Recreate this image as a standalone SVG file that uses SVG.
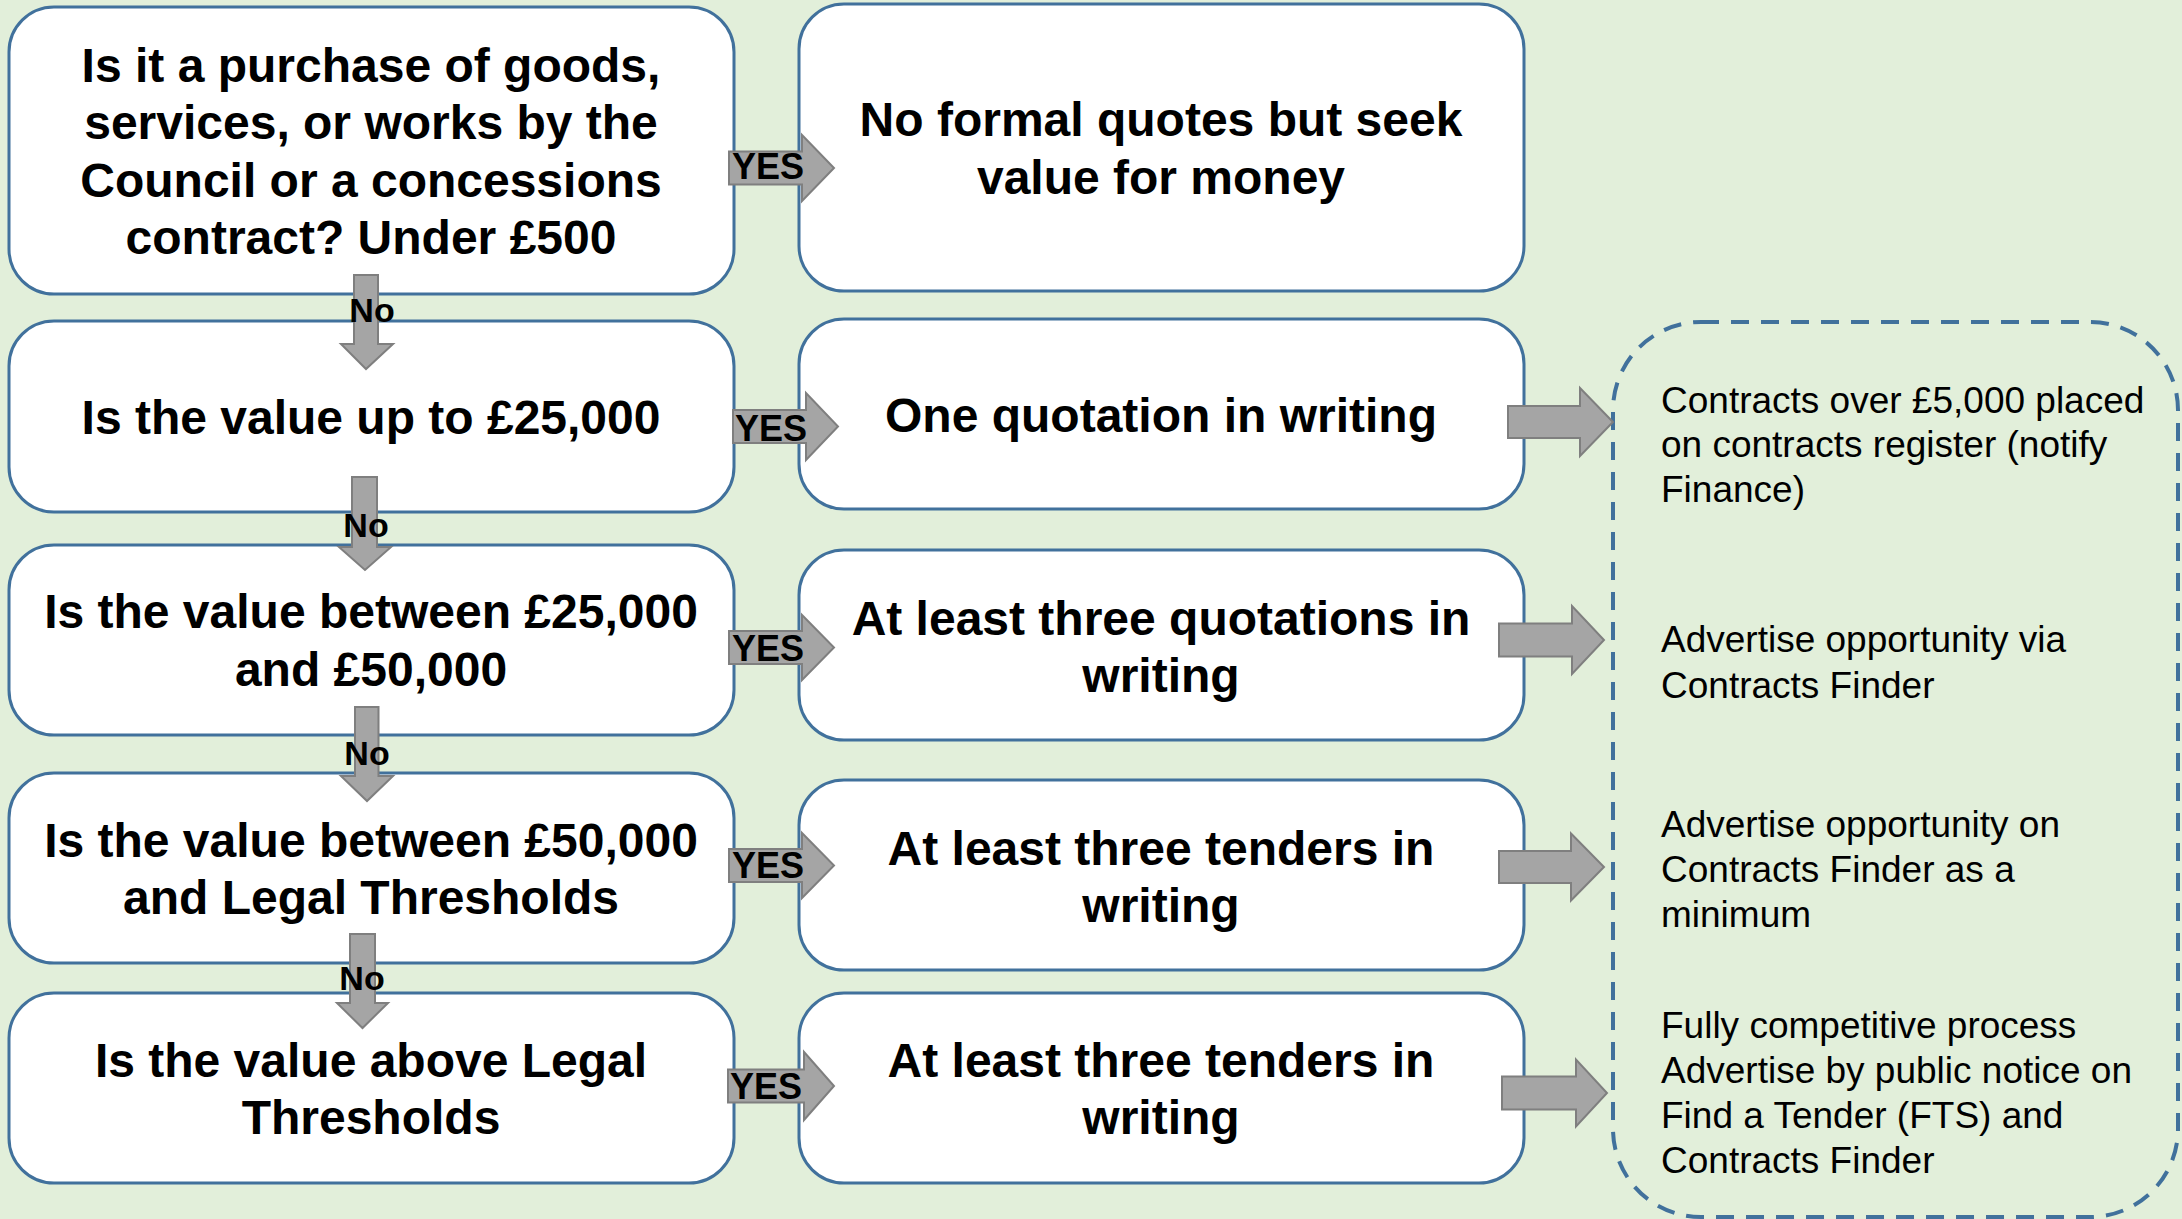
<svg xmlns="http://www.w3.org/2000/svg" width="2182" height="1219" viewBox="0 0 2182 1219">
<style>
.box{fill:#FFFFFF;stroke:#41719C;stroke-width:3}
.dash{fill:none;stroke:#41719C;stroke-width:4;stroke-dasharray:18 12}
.arr{fill:#A5A5A5;stroke:#7F7F7F;stroke-width:2;stroke-linejoin:miter}
.t{font-family:"Liberation Sans",Arial,sans-serif;font-weight:bold;font-size:48px;fill:#000;text-anchor:middle}
.lbl{font-family:"Liberation Sans",Arial,sans-serif;font-weight:bold;fill:#000;text-anchor:middle}
.note{font-family:"Liberation Sans",Arial,sans-serif;font-size:37px;fill:#000}
</style>
<rect x="0" y="0" width="2182" height="1219" fill="#E2EFDA"/>

<g id="note-box">
<rect class="dash" x="1613" y="322" width="565" height="895" rx="88" ry="88"/>
<text class="note"><tspan x="1661" y="413">Contracts over £5,000 placed</tspan><tspan x="1661" y="457">on contracts register (notify</tspan><tspan x="1661" y="502">Finance)</tspan></text>
<text class="note"><tspan x="1661" y="652">Advertise opportunity via</tspan><tspan x="1661" y="698">Contracts Finder</tspan></text>
<text class="note"><tspan x="1661" y="837">Advertise opportunity on</tspan><tspan x="1661" y="882">Contracts Finder as a</tspan><tspan x="1661" y="927">minimum</tspan></text>
<text class="note"><tspan x="1661" y="1038">Fully competitive process</tspan><tspan x="1661" y="1083">Advertise by public notice on</tspan><tspan x="1661" y="1128">Find a Tender (FTS) and</tspan><tspan x="1661" y="1173">Contracts Finder</tspan></text>
</g>

<g id="q1">
<rect class="box" x="9" y="7" width="725" height="287" rx="45" ry="45"/>
<text class="t"><tspan x="371" y="82">Is it a purchase of goods,</tspan><tspan x="371" y="139">services, or works by the</tspan><tspan x="371" y="197">Council or a concessions</tspan><tspan x="371" y="254">contract? Under £500</tspan></text>
</g>
<g id="q2">
<rect class="box" x="9" y="321" width="725" height="191" rx="45" ry="45"/>
<text class="t" x="371" y="434">Is the value up to £25,000</text>
</g>
<g id="q3">
<rect class="box" x="9" y="545" width="725" height="190" rx="45" ry="45"/>
<text class="t"><tspan x="371" y="628">Is the value between £25,000</tspan><tspan x="371" y="686">and £50,000</tspan></text>
</g>
<g id="q4">
<rect class="box" x="9" y="773" width="725" height="190" rx="45" ry="45"/>
<text class="t"><tspan x="371" y="857">Is the value between £50,000</tspan><tspan x="371" y="914">and Legal Thresholds</tspan></text>
</g>
<g id="q5">
<rect class="box" x="9" y="993" width="725" height="190" rx="45" ry="45"/>
<text class="t"><tspan x="371" y="1077">Is the value above Legal</tspan><tspan x="371" y="1134">Thresholds</tspan></text>
</g>

<g id="a1">
<rect class="box" x="799" y="4" width="725" height="287" rx="45" ry="45"/>
<text class="t"><tspan x="1161" y="136">No formal quotes but seek</tspan><tspan x="1161" y="194">value for money</tspan></text>
</g>
<g id="a2">
<rect class="box" x="799" y="319" width="725" height="190" rx="45" ry="45"/>
<text class="t" x="1161" y="432">One quotation in writing</text>
</g>
<g id="a3">
<rect class="box" x="799" y="550" width="725" height="190" rx="45" ry="45"/>
<text class="t"><tspan x="1161" y="635">At least three quotations in</tspan><tspan x="1161" y="692">writing</tspan></text>
</g>
<g id="a4">
<rect class="box" x="799" y="780" width="725" height="190" rx="45" ry="45"/>
<text class="t"><tspan x="1161" y="865">At least three tenders in</tspan><tspan x="1161" y="922">writing</tspan></text>
</g>
<g id="a5">
<rect class="box" x="799" y="993" width="725" height="190" rx="45" ry="45"/>
<text class="t"><tspan x="1161" y="1077">At least three tenders in</tspan><tspan x="1161" y="1134">writing</tspan></text>
</g>

<g id="connectors">
<path class="arr" d="M729 151.5 H802 V135 L834 168 L802 201 V184.5 H729 Z"/>
<path class="arr" d="M733 410 H806 V393 L838 426.5 L806 460 V443 H733 Z"/>
<path class="arr" d="M729 631 H802 V615 L834 647.5 L802 680 V664 H729 Z"/>
<path class="arr" d="M729 849 H802 V833 L834 865.5 L802 898 V882 H729 Z"/>
<path class="arr" d="M728 1069.5 H804 V1052 L834 1086 L804 1120 V1102.5 H728 Z"/>
<text class="lbl" font-size="36" x="768" y="179">YES</text>
<text class="lbl" font-size="36" x="771" y="441">YES</text>
<text class="lbl" font-size="36" x="768" y="661">YES</text>
<text class="lbl" font-size="36" x="768" y="878">YES</text>
<text class="lbl" font-size="36" x="766" y="1099">YES</text>
<path class="arr" d="M354 275 H378 V344 H393 L366 369 L341 344 H354 Z"/>
<path class="arr" d="M352 477 H377 V547 H391 L365 570 L339 547 H352 Z"/>
<path class="arr" d="M355 707 H378.5 V776 H393 L367 801 L341 776 H355 Z"/>
<path class="arr" d="M350 934 H375 V1003 H388 L362.5 1028 L337 1003 H350 Z"/>
<text class="lbl" font-size="34" x="372" y="322">No</text>
<text class="lbl" font-size="34" x="366" y="537">No</text>
<text class="lbl" font-size="34" x="367" y="765">No</text>
<text class="lbl" font-size="34" x="362" y="990">No</text>
<path class="arr" d="M1508 406 H1580 V388 L1613 422 L1580 456 V438 H1508 Z"/>
<path class="arr" d="M1499 623.5 H1572 V606 L1604 640 L1572 674 V656.5 H1499 Z"/>
<path class="arr" d="M1499 851 H1571 V833.5 L1604 867 L1571 900.5 V883 H1499 Z"/>
<path class="arr" d="M1502 1076.5 H1576 V1059.5 L1607 1093 L1576 1126.5 V1109.5 H1502 Z"/>
</g>
</svg>
